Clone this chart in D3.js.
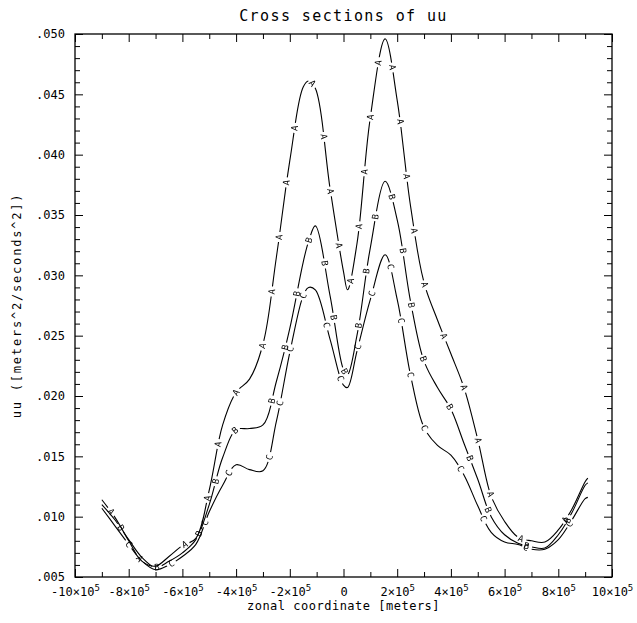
<!DOCTYPE html>
<html><head><meta charset="utf-8">
<script src="https://cdn.jsdelivr.net/npm/d3@7"></script>
<style>
body{margin:0;background:#fff}
text{font-family:"DejaVu Sans Mono",monospace;fill:#000}
.lbl{opacity:0.99}
</style>
</head><body>
<svg id="chart" width="637" height="623"></svg>
<script>
// ---- data (zonal coordinate in meters) ----
const xCoords = [-9,-8.5,-8,-7.5,-7,-6.5,-6,-5.5,-5,-4.5,-4,-3.5,-3,-2.5,-2,-1.5,-1.3,-1.05,-0.5,0,0.15,0.5,1,1.55,2,2.5,3,3.5,4,4.5,5,5.5,6,6.5,7,7.5,8,8.5,9,9.1].map(v => v * 1e5);
const seriesA = [0.0114,0.0099,0.0080,0.0063,0.0059,0.0067,0.0076,0.0082,0.0122,0.0176,0.0203,0.0214,0.0243,0.0315,0.0395,0.0456,0.0461,0.0455,0.0372,0.0303,0.0288,0.0326,0.0431,0.0496,0.0445,0.0357,0.0294,0.0263,0.0235,0.0206,0.0164,0.0117,0.0096,0.0083,0.0080,0.0079,0.0089,0.0106,0.0129,0.0132];
const seriesB = [0.0110,0.0097,0.0081,0.0066,0.0058,0.0063,0.0070,0.0081,0.0110,0.0149,0.0172,0.0173,0.0176,0.0212,0.0256,0.0311,0.0328,0.0341,0.0283,0.0222,0.0218,0.0250,0.0323,0.0378,0.0346,0.0278,0.0229,0.0207,0.0189,0.0160,0.0131,0.0100,0.0085,0.0078,0.0075,0.0074,0.0085,0.0103,0.0126,0.0128];
const seriesC = [0.0107,0.0092,0.0077,0.0063,0.0056,0.0060,0.0067,0.0077,0.0104,0.0126,0.0143,0.0139,0.0138,0.0179,0.0236,0.0283,0.0290,0.0288,0.0247,0.0209,0.0207,0.0237,0.0280,0.0317,0.0280,0.0217,0.0174,0.0159,0.0151,0.0134,0.0109,0.0087,0.0079,0.0077,0.0073,0.0073,0.0081,0.0097,0.0115,0.0116];
const seriesNames = ["A","B","C"];
const labelOffsets = [15,30,45];
const xMajorTicks = [-10,-8,-6,-4,-2,0,2,4,6,8,10].map(v => v * 1e5);
const xMinorTicks = [-9,-7,-5,-3,-1,1,3,5,7,9].map(v => v * 1e5);
const yMajorTicks = [0.005,0.010,0.015,0.020,0.025,0.030,0.035,0.040,0.045,0.050];
const titleText = "Cross sections of uu";
const xTitle = "zonal coordinate [meters]";
const yTitle = "uu ([meters^2/seconds^2])";

// ---- layout ----
const L = 75, R = 612, T = 34, B = 577;
const svg = d3.select("#chart");
const x = d3.scaleLinear().domain([-1e6, 1e6]).range([L, R]);
const y = d3.scaleLinear().domain([0.005, 0.05]).range([B, T]);
const yMinorTicks = d3.range(6, 50).map(v => v / 1000).filter(v => Math.round(v * 1000) % 5 !== 0);

function styleAxis(g) {
  g.select(".domain").remove();
  g.selectAll(".tick line").attr("stroke", "#000").attr("stroke-width", 1);
  g.selectAll("text").attr("font-family", "DejaVu Sans Mono").attr("font-size", 12).attr("fill", "#000");
}

// bottom axis, major with labels
const gxb = svg.append("g").attr("transform", `translate(0,${B})`)
  .call(d3.axisBottom(x).tickValues(xMajorTicks).tickSizeInner(-8).tickSizeOuter(0).tickPadding(10));
styleAxis(gxb);
gxb.selectAll(".tick text").each(function(d) {
  const t = d3.select(this);
  t.text(null);
  if (d === 0) { t.append("tspan").text("0"); return; }
  const m = Math.round(d / 1e5);
  t.append("tspan").text(`${m < 0 ? "-" : ""}${Math.abs(m)}×10`);
  t.append("tspan").attr("dy", "-0.45em").attr("font-size", 9).text("5");
});
svg.append("g").attr("transform", `translate(0,${B})`)
  .call(d3.axisBottom(x).tickValues(xMinorTicks).tickSizeInner(-5).tickSizeOuter(0).tickFormat(""))
  .call(styleAxis);
// top axis
svg.append("g").attr("transform", `translate(0,${T})`)
  .call(d3.axisTop(x).tickValues(xMajorTicks).tickSizeInner(-8).tickSizeOuter(0).tickFormat(""))
  .call(styleAxis);
svg.append("g").attr("transform", `translate(0,${T})`)
  .call(d3.axisTop(x).tickValues(xMinorTicks).tickSizeInner(-5).tickSizeOuter(0).tickFormat(""))
  .call(styleAxis);
// left axis
const fmtY = v => d3.format(".3f")(v).replace(/^0/, "");
svg.append("g").attr("transform", `translate(${L},0)`)
  .call(d3.axisLeft(y).tickValues(yMajorTicks).tickSizeInner(-8).tickSizeOuter(0).tickPadding(10).tickFormat(fmtY))
  .call(styleAxis);
svg.append("g").attr("transform", `translate(${L},0)`)
  .call(d3.axisLeft(y).tickValues(yMinorTicks).tickSizeInner(-5).tickSizeOuter(0).tickFormat(""))
  .call(styleAxis);
// right axis
svg.append("g").attr("transform", `translate(${R},0)`)
  .call(d3.axisRight(y).tickValues(yMajorTicks).tickSizeInner(-8).tickSizeOuter(0).tickFormat(""))
  .call(styleAxis);
svg.append("g").attr("transform", `translate(${R},0)`)
  .call(d3.axisRight(y).tickValues(yMinorTicks).tickSizeInner(-5).tickSizeOuter(0).tickFormat(""))
  .call(styleAxis);

// frame
svg.append("rect").attr("x", L).attr("y", T).attr("width", R - L).attr("height", B - T)
  .attr("fill", "none").attr("stroke", "#000").attr("stroke-width", 1.3);

// titles
svg.append("text").attr("x", (L + R) / 2).attr("y", 21).attr("text-anchor", "middle")
  .attr("font-size", 15).attr("letter-spacing", 1.4).text(titleText);
svg.append("text").attr("x", (L + R) / 2).attr("y", 610).attr("text-anchor", "middle")
  .attr("font-size", 12).attr("letter-spacing", 0.5).text(xTitle);
svg.append("text").attr("transform", `translate(21,${(T + B) / 2}) rotate(-90)`).attr("text-anchor", "middle")
  .attr("font-size", 12).attr("letter-spacing", 1.8).text(yTitle);

// curves
const allSeries = [seriesA, seriesB, seriesC];
const line = d3.line().x(d => x(d[0])).y(d => y(d[1])).curve(d3.curveCatmullRom.alpha(0.5));
const spacing = 55, gap = 10;
const lblGroup = svg.append("g").attr("class", "lbl");
allSeries.forEach((vals, i) => {
  const pts = xCoords.map((xv, j) => [xv, vals[j]]);
  const off = labelOffsets[i];
  const path = svg.append("path").datum(pts).attr("d", line)
    .attr("fill", "none").attr("stroke", "#000").attr("stroke-width", 1.1)
    .attr("stroke-dasharray", `${spacing - gap} ${gap}`)
    .attr("stroke-dashoffset", spacing - gap / 2 - off);
  const node = path.node();
  const len = node.getTotalLength();
  for (let s = off; s < len - 3; s += spacing) {
    const p = node.getPointAtLength(s);
    const p1 = node.getPointAtLength(Math.max(0, s - 2));
    const p2 = node.getPointAtLength(Math.min(len, s + 2));
    const ang = Math.atan2(p2.y - p1.y, p2.x - p1.x) * 180 / Math.PI;
    lblGroup.append("text").attr("transform", `translate(${p.x},${p.y}) rotate(${ang})`)
      .attr("text-anchor", "middle").attr("dominant-baseline", "central")
      .attr("font-size", 9).text(seriesNames[i]);
  }
});
</script>
</body></html>
